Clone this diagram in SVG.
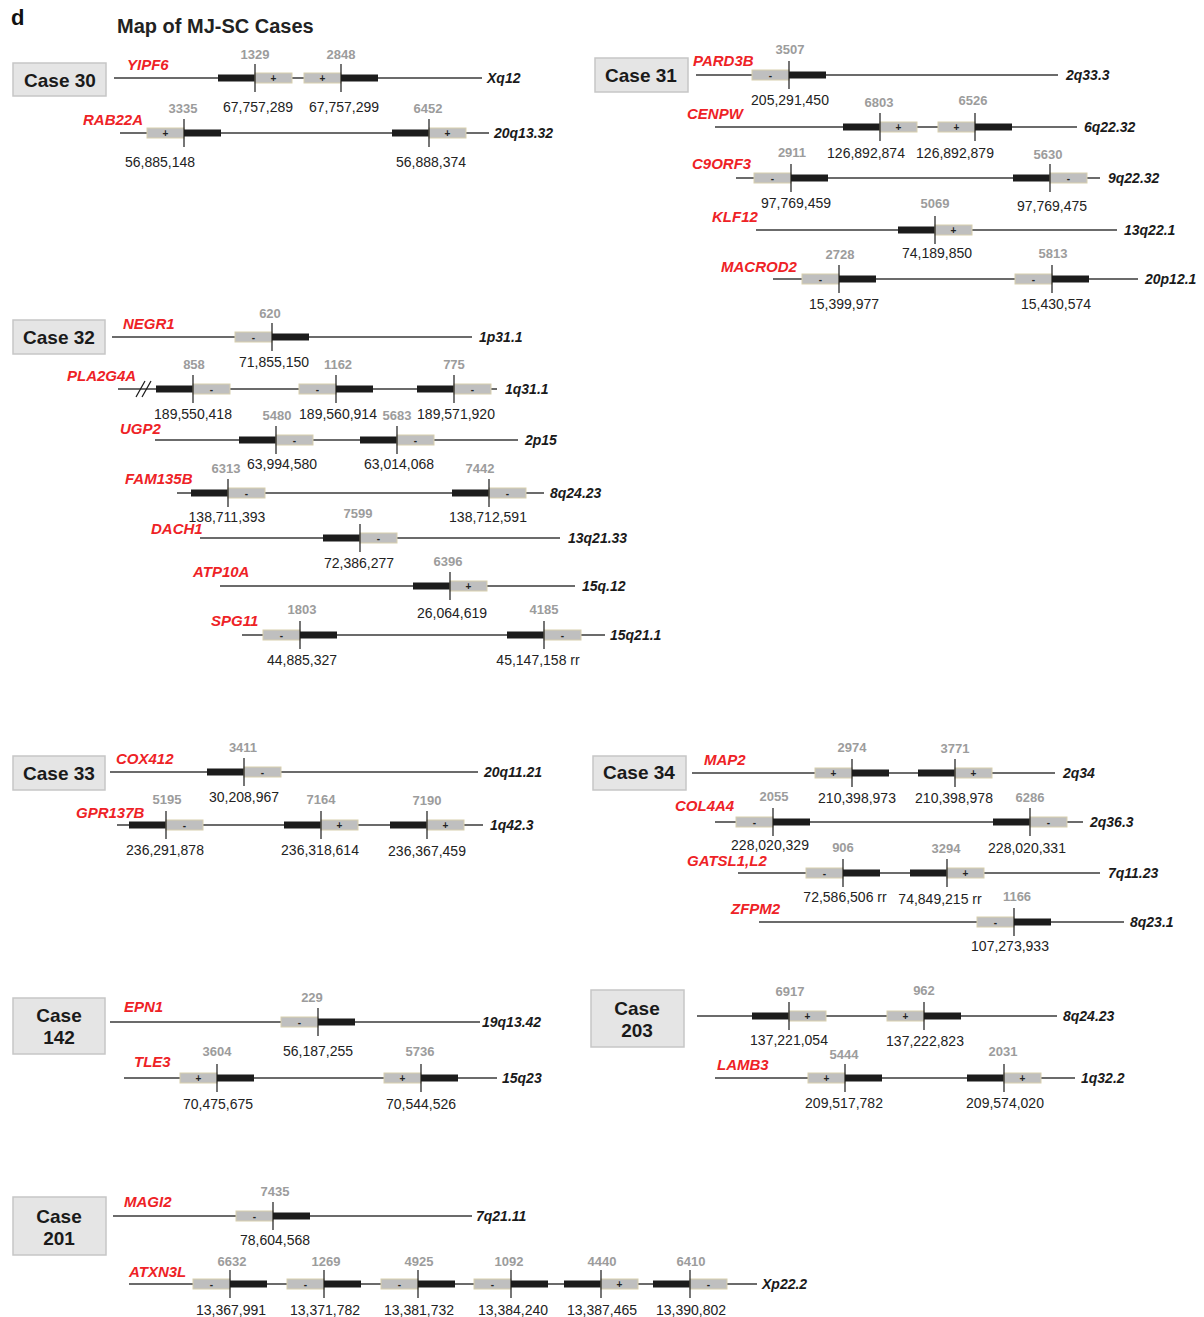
<svg xmlns="http://www.w3.org/2000/svg" width="1204" height="1317" viewBox="0 0 1204 1317">
<style>
.bb{stroke:#3a3a3a;stroke-width:1.3}
.g{fill:#bfbfbf;stroke:#d8cfae;stroke-width:1}
.k{fill:#1c1c1c}
.t{stroke:#1a1a1a;stroke-width:1.2}
.gene{font-family:"Liberation Sans",Arial,sans-serif;font-style:italic;font-weight:bold;font-size:15px;fill:#ee2226}
.chr{font-family:"Liberation Sans",Arial,sans-serif;font-style:italic;font-weight:bold;font-size:14px;fill:#1a1a1a}
.num{font-family:"Liberation Sans",Arial,sans-serif;font-weight:bold;font-size:13px;fill:#9c9c9c;text-anchor:middle}
.pos{font-family:"Liberation Sans",Arial,sans-serif;font-size:14px;fill:#222;text-anchor:middle}
.sg{font-family:"Liberation Sans",Arial,sans-serif;font-weight:bold;font-size:10px;fill:#222;text-anchor:middle}
.cb{fill:#e5e5e5;stroke:#c6c6c6;stroke-width:1.5}
.ct{font-family:"Liberation Sans",Arial,sans-serif;font-weight:bold;font-size:19px;fill:#1a1a1a;text-anchor:middle}
</style>
<text x="11" y="25" font-family="Liberation Sans, Arial, sans-serif" font-weight="bold" font-size="22" fill="#111">d</text>
<text x="117" y="33" font-family="Liberation Sans, Arial, sans-serif" font-weight="bold" font-size="20" fill="#222">Map of MJ-SC Cases</text>

<!-- Case 30 -->
<g id="case30">
<rect class="cb" x="13" y="63" width="93" height="33"/><text class="ct" x="60" y="87">Case 30</text>
<g id="YIPF6">
<line class="bb" x1="114" y1="78" x2="482" y2="78"/>
<rect class="k" x="218" y="74.5" width="37" height="7"/><rect class="g" x="255" y="73" width="37" height="10"/>
<rect class="g" x="304" y="73" width="37" height="10"/><rect class="k" x="341" y="74.5" width="37" height="7"/>
<line class="t" x1="255" y1="64" x2="255" y2="92"/><line class="t" x1="341" y1="64" x2="341" y2="92"/>
<text class="sg" x="273.5" y="81.5">+</text><text class="sg" x="322.5" y="81.5">+</text>
<text class="gene" x="127" y="70">YIPF6</text><text class="chr" x="487" y="83">Xq12</text>
<text class="num" x="255" y="59">1329</text><text class="pos" x="258" y="112">67,757,289</text>
<text class="num" x="341" y="59">2848</text><text class="pos" x="344" y="112">67,757,299</text>
</g>
<g id="RAB22A">
<line class="bb" x1="120" y1="133" x2="489" y2="133"/>
<rect class="g" x="147" y="128" width="37" height="10"/><rect class="k" x="184" y="129.5" width="37" height="7"/>
<rect class="k" x="392" y="129.5" width="37" height="7"/><rect class="g" x="429" y="128" width="37" height="10"/>
<line class="t" x1="184" y1="119" x2="184" y2="147"/><line class="t" x1="429" y1="119" x2="429" y2="147"/>
<text class="sg" x="165.5" y="136.5">+</text><text class="sg" x="447.5" y="136.5">+</text>
<text class="gene" x="83" y="125">RAB22A</text><text class="chr" x="494" y="138">20q13.32</text>
<text class="num" x="183" y="113">3335</text><text class="pos" x="160" y="167">56,885,148</text>
<text class="num" x="428" y="113">6452</text><text class="pos" x="431" y="167">56,888,374</text>
</g>
</g>

<!-- Case 31 -->
<g id="case31">
<rect class="cb" x="595" y="58" width="93" height="34"/><text class="ct" x="641" y="82">Case 31</text>
<g id="PARD3B">
<line class="bb" x1="696" y1="75" x2="1058" y2="75"/>
<rect class="g" x="752" y="70" width="37" height="10"/><rect class="k" x="789" y="71.5" width="37" height="7"/>
<line class="t" x1="789" y1="61" x2="789" y2="89"/>
<text class="sg" x="770.5" y="78.5">-</text>
<text class="gene" x="693" y="66">PARD3B</text><text class="chr" x="1066" y="80">2q33.3</text>
<text class="num" x="790" y="54">3507</text><text class="pos" x="790" y="105">205,291,450</text>
</g>
<g id="CENPW">
<line class="bb" x1="715" y1="127" x2="1077" y2="127"/>
<rect class="k" x="843" y="123.5" width="37" height="7"/><rect class="g" x="880" y="122" width="37" height="10"/>
<rect class="g" x="938" y="122" width="37" height="10"/><rect class="k" x="975" y="123.5" width="37" height="7"/>
<line class="t" x1="880" y1="113" x2="880" y2="141"/><line class="t" x1="975" y1="113" x2="975" y2="141"/>
<text class="sg" x="898.5" y="130.5">+</text><text class="sg" x="956.5" y="130.5">+</text>
<text class="gene" x="687" y="119">CENPW</text><text class="chr" x="1084" y="132">6q22.32</text>
<text class="num" x="879" y="107">6803</text><text class="pos" x="866" y="158">126,892,874</text>
<text class="num" x="973" y="105">6526</text><text class="pos" x="955" y="158">126,892,879</text>
</g>
<g id="C9ORF3">
<line class="bb" x1="736" y1="178" x2="1100" y2="178"/>
<rect class="g" x="754" y="173" width="37" height="10"/><rect class="k" x="791" y="174.5" width="37" height="7"/>
<rect class="k" x="1013" y="174.5" width="37" height="7"/><rect class="g" x="1050" y="173" width="37" height="10"/>
<line class="t" x1="791" y1="164" x2="791" y2="192"/><line class="t" x1="1050" y1="164" x2="1050" y2="192"/>
<text class="sg" x="772.5" y="181.5">-</text><text class="sg" x="1068.5" y="181.5">-</text>
<text class="gene" x="692" y="169">C9ORF3</text><text class="chr" x="1108" y="183">9q22.32</text>
<text class="num" x="792" y="157">2911</text><text class="pos" x="796" y="208">97,769,459</text>
<text class="num" x="1048" y="159">5630</text><text class="pos" x="1052" y="211">97,769,475</text>
</g>
<g id="KLF12">
<line class="bb" x1="756" y1="230" x2="1117" y2="230"/>
<rect class="k" x="898" y="226.5" width="37" height="7"/><rect class="g" x="935" y="225" width="37" height="10"/>
<line class="t" x1="935" y1="216" x2="935" y2="244"/>
<text class="sg" x="953.5" y="233.5">+</text>
<text class="gene" x="712" y="222">KLF12</text><text class="chr" x="1124" y="235">13q22.1</text>
<text class="num" x="935" y="208">5069</text><text class="pos" x="937" y="258">74,189,850</text>
</g>
<g id="MACROD2">
<line class="bb" x1="773" y1="279" x2="1138" y2="279"/>
<rect class="g" x="802" y="274" width="37" height="10"/><rect class="k" x="839" y="275.5" width="37" height="7"/>
<rect class="g" x="1015" y="274" width="37" height="10"/><rect class="k" x="1052" y="275.5" width="37" height="7"/>
<line class="t" x1="839" y1="265" x2="839" y2="293"/><line class="t" x1="1052" y1="265" x2="1052" y2="293"/>
<text class="sg" x="820.5" y="282.5">-</text><text class="sg" x="1033.5" y="282.5">-</text>
<text class="gene" x="721" y="272">MACROD2</text><text class="chr" x="1145" y="284">20p12.1</text>
<text class="num" x="840" y="259">2728</text><text class="pos" x="844" y="309">15,399,977</text>
<text class="num" x="1053" y="258">5813</text><text class="pos" x="1056" y="309">15,430,574</text>
</g>
</g>

<!-- Case 32 -->
<g id="case32">
<rect class="cb" x="13" y="320" width="92" height="34"/><text class="ct" x="59" y="344">Case 32</text>
<g id="NEGR1">
<line class="bb" x1="112" y1="337" x2="472" y2="337"/>
<rect class="g" x="235" y="332" width="37" height="10"/><rect class="k" x="272" y="333.5" width="37" height="7"/>
<line class="t" x1="272" y1="323" x2="272" y2="351"/>
<text class="sg" x="253.5" y="340.5">-</text>
<text class="gene" x="123" y="329">NEGR1</text><text class="chr" x="479" y="342">1p31.1</text>
<text class="num" x="270" y="318">620</text><text class="pos" x="274" y="367">71,855,150</text>
</g>
<g id="PLA2G4A">
<line class="bb" x1="118" y1="389" x2="497" y2="389"/>
<line class="t" x1="136" y1="397" x2="145" y2="381"/><line class="t" x1="142" y1="397" x2="151" y2="381"/>
<rect class="k" x="156" y="385.5" width="37" height="7"/><rect class="g" x="193" y="384" width="37" height="10"/>
<rect class="g" x="299" y="384" width="37" height="10"/><rect class="k" x="336" y="385.5" width="37" height="7"/>
<rect class="k" x="417" y="385.5" width="37" height="7"/><rect class="g" x="454" y="384" width="37" height="10"/>
<line class="t" x1="193" y1="375" x2="193" y2="403"/><line class="t" x1="336" y1="375" x2="336" y2="403"/><line class="t" x1="454" y1="375" x2="454" y2="403"/>
<text class="sg" x="211.5" y="392.5">-</text><text class="sg" x="317.5" y="392.5">-</text><text class="sg" x="472.5" y="392.5">-</text>
<text class="gene" x="67" y="381">PLA2G4A</text><text class="chr" x="505" y="394">1q31.1</text>
<text class="num" x="194" y="369">858</text><text class="pos" x="193" y="419">189,550,418</text>
<text class="num" x="338" y="369">1162</text><text class="pos" x="338" y="419">189,560,914</text>
<text class="num" x="454" y="369">775</text><text class="pos" x="456" y="419">189,571,920</text>
</g>
<g id="UGP2">
<line class="bb" x1="155" y1="440" x2="518" y2="440"/>
<rect class="k" x="239" y="436.5" width="37" height="7"/><rect class="g" x="276" y="435" width="37" height="10"/>
<rect class="k" x="360" y="436.5" width="37" height="7"/><rect class="g" x="397" y="435" width="37" height="10"/>
<line class="t" x1="276" y1="426" x2="276" y2="454"/><line class="t" x1="397" y1="426" x2="397" y2="454"/>
<text class="sg" x="294.5" y="443.5">-</text><text class="sg" x="415.5" y="443.5">-</text>
<text class="gene" x="120" y="434">UGP2</text><text class="chr" x="525" y="445">2p15</text>
<text class="num" x="277" y="420">5480</text><text class="pos" x="282" y="469">63,994,580</text>
<text class="num" x="397" y="420">5683</text><text class="pos" x="399" y="469">63,014,068</text>
</g>
<g id="FAM135B">
<line class="bb" x1="177" y1="493" x2="544" y2="493"/>
<rect class="k" x="191" y="489.5" width="37" height="7"/><rect class="g" x="228" y="488" width="37" height="10"/>
<rect class="k" x="452" y="489.5" width="37" height="7"/><rect class="g" x="489" y="488" width="37" height="10"/>
<line class="t" x1="228" y1="479" x2="228" y2="507"/><line class="t" x1="489" y1="479" x2="489" y2="507"/>
<text class="sg" x="246.5" y="496.5">-</text><text class="sg" x="507.5" y="496.5">-</text>
<text class="gene" x="125" y="484">FAM135B</text><text class="chr" x="550" y="498">8q24.23</text>
<text class="num" x="226" y="473">6313</text><text class="pos" x="227" y="522">138,711,393</text>
<text class="num" x="480" y="473">7442</text><text class="pos" x="488" y="522">138,712,591</text>
</g>
<g id="DACH1">
<line class="bb" x1="200" y1="538" x2="560" y2="538"/>
<rect class="k" x="323" y="534.5" width="37" height="7"/><rect class="g" x="360" y="533" width="37" height="10"/>
<line class="t" x1="360" y1="524" x2="360" y2="552"/>
<text class="sg" x="378.5" y="541.5">-</text>
<text class="gene" x="151" y="534">DACH1</text><text class="chr" x="568" y="543">13q21.33</text>
<text class="num" x="358" y="518">7599</text><text class="pos" x="359" y="568">72,386,277</text>
</g>
<g id="ATP10A">
<line class="bb" x1="220" y1="586" x2="575" y2="586"/>
<rect class="k" x="413" y="582.5" width="37" height="7"/><rect class="g" x="450" y="581" width="37" height="10"/>
<line class="t" x1="450" y1="572" x2="450" y2="600"/>
<text class="sg" x="468.5" y="589.5">+</text>
<text class="gene" x="193" y="577">ATP10A</text><text class="chr" x="582" y="591">15q.12</text>
<text class="num" x="448" y="566">6396</text><text class="pos" x="452" y="618">26,064,619</text>
</g>
<g id="SPG11">
<line class="bb" x1="242" y1="635" x2="605" y2="635"/>
<rect class="g" x="263" y="630" width="37" height="10"/><rect class="k" x="300" y="631.5" width="37" height="7"/>
<rect class="k" x="507" y="631.5" width="37" height="7"/><rect class="g" x="544" y="630" width="37" height="10"/>
<line class="t" x1="300" y1="621" x2="300" y2="649"/><line class="t" x1="544" y1="621" x2="544" y2="649"/>
<text class="sg" x="281.5" y="638.5">-</text><text class="sg" x="562.5" y="638.5">-</text>
<text class="gene" x="211" y="626">SPG11</text><text class="chr" x="610" y="640">15q21.1</text>
<text class="num" x="302" y="614">1803</text><text class="pos" x="302" y="665">44,885,327</text>
<text class="num" x="544" y="614">4185</text><text class="pos" x="538" y="665">45,147,158 rr</text>
</g>
</g>

<!-- Case 33 -->
<g id="case33">
<rect class="cb" x="13" y="756" width="92" height="34"/><text class="ct" x="59" y="780">Case 33</text>
<g id="COX412">
<line class="bb" x1="110" y1="772" x2="478" y2="772"/>
<rect class="k" x="207" y="768.5" width="37" height="7"/><rect class="g" x="244" y="767" width="37" height="10"/>
<line class="t" x1="244" y1="758" x2="244" y2="786"/>
<text class="sg" x="262.5" y="775.5">-</text>
<text class="gene" x="116" y="764">COX412</text><text class="chr" x="484" y="777">20q11.21</text>
<text class="num" x="243" y="752">3411</text><text class="pos" x="244" y="802">30,208,967</text>
</g>
<g id="GPR137B">
<line class="bb" x1="117" y1="825" x2="483" y2="825"/>
<rect class="k" x="129" y="821.5" width="37" height="7"/><rect class="g" x="166" y="820" width="37" height="10"/>
<rect class="k" x="284" y="821.5" width="37" height="7"/><rect class="g" x="321" y="820" width="37" height="10"/>
<rect class="k" x="390" y="821.5" width="37" height="7"/><rect class="g" x="427" y="820" width="37" height="10"/>
<line class="t" x1="166" y1="811" x2="166" y2="839"/><line class="t" x1="321" y1="811" x2="321" y2="839"/><line class="t" x1="427" y1="811" x2="427" y2="839"/>
<text class="sg" x="184.5" y="828.5">-</text><text class="sg" x="339.5" y="828.5">+</text><text class="sg" x="445.5" y="828.5">+</text>
<text class="gene" x="76" y="818">GPR137B</text><text class="chr" x="490" y="830">1q42.3</text>
<text class="num" x="167" y="804">5195</text><text class="pos" x="165" y="855">236,291,878</text>
<text class="num" x="321" y="804">7164</text><text class="pos" x="320" y="855">236,318,614</text>
<text class="num" x="427" y="805">7190</text><text class="pos" x="427" y="856">236,367,459</text>
</g>
</g>

<!-- Case 34 -->
<g id="case34">
<rect class="cb" x="593" y="756" width="93" height="34"/><text class="ct" x="639" y="779">Case 34</text>
<g id="MAP2">
<line class="bb" x1="692" y1="773" x2="1055" y2="773"/>
<rect class="g" x="815" y="768" width="37" height="10"/><rect class="k" x="852" y="769.5" width="37" height="7"/>
<rect class="k" x="918" y="769.5" width="37" height="7"/><rect class="g" x="955" y="768" width="37" height="10"/>
<line class="t" x1="852" y1="759" x2="852" y2="787"/><line class="t" x1="955" y1="759" x2="955" y2="787"/>
<text class="sg" x="833.5" y="776.5">+</text><text class="sg" x="973.5" y="776.5">+</text>
<text class="gene" x="704" y="765">MAP2</text><text class="chr" x="1063" y="778">2q34</text>
<text class="num" x="852" y="752">2974</text><text class="pos" x="857" y="803">210,398,973</text>
<text class="num" x="955" y="753">3771</text><text class="pos" x="954" y="803">210,398,978</text>
</g>
<g id="COL4A4">
<line class="bb" x1="715" y1="822" x2="1083" y2="822"/>
<rect class="g" x="736" y="817" width="37" height="10"/><rect class="k" x="773" y="818.5" width="37" height="7"/>
<rect class="k" x="993" y="818.5" width="37" height="7"/><rect class="g" x="1030" y="817" width="37" height="10"/>
<line class="t" x1="773" y1="808" x2="773" y2="836"/><line class="t" x1="1030" y1="808" x2="1030" y2="836"/>
<text class="sg" x="754.5" y="825.5">-</text><text class="sg" x="1048.5" y="825.5">-</text>
<text class="gene" x="675" y="811">COL4A4</text><text class="chr" x="1090" y="827">2q36.3</text>
<text class="num" x="774" y="801">2055</text><text class="pos" x="770" y="850">228,020,329</text>
<text class="num" x="1030" y="802">6286</text><text class="pos" x="1027" y="853">228,020,331</text>
</g>
<g id="GATSL1L2">
<line class="bb" x1="738" y1="873" x2="1100" y2="873"/>
<rect class="g" x="806" y="868" width="37" height="10"/><rect class="k" x="843" y="869.5" width="37" height="7"/>
<rect class="k" x="910" y="869.5" width="37" height="7"/><rect class="g" x="947" y="868" width="37" height="10"/>
<line class="t" x1="843" y1="859" x2="843" y2="887"/><line class="t" x1="947" y1="859" x2="947" y2="887"/>
<text class="sg" x="824.5" y="876.5">-</text><text class="sg" x="965.5" y="876.5">+</text>
<text class="gene" x="687" y="866">GATSL1,L2</text><text class="chr" x="1108" y="878">7q11.23</text>
<text class="num" x="843" y="852">906</text><text class="pos" x="845" y="902">72,586,506 rr</text>
<text class="num" x="946" y="853">3294</text><text class="pos" x="940" y="904">74,849,215 rr</text>
</g>
<g id="ZFPM2">
<line class="bb" x1="759" y1="922" x2="1124" y2="922"/>
<rect class="g" x="977" y="917" width="37" height="10"/><rect class="k" x="1014" y="918.5" width="37" height="7"/>
<line class="t" x1="1014" y1="908" x2="1014" y2="936"/>
<text class="sg" x="995.5" y="925.5">-</text>
<text class="gene" x="731" y="914">ZFPM2</text><text class="chr" x="1130" y="927">8q23.1</text>
<text class="num" x="1017" y="901">1166</text><text class="pos" x="1010" y="951">107,273,933</text>
</g>
</g>

<!-- Case 142 -->
<g id="case142">
<rect class="cb" x="13" y="998" width="92" height="56"/><text class="ct" x="59" y="1022">Case</text><text class="ct" x="59" y="1044">142</text>
<g id="EPN1">
<line class="bb" x1="110" y1="1022" x2="480" y2="1022"/>
<rect class="g" x="281" y="1017" width="37" height="10"/><rect class="k" x="318" y="1018.5" width="37" height="7"/>
<line class="t" x1="318" y1="1008" x2="318" y2="1036"/>
<text class="sg" x="299.5" y="1025.5">-</text>
<text class="gene" x="124" y="1012">EPN1</text><text class="chr" x="482" y="1027">19q13.42</text>
<text class="num" x="312" y="1002">229</text><text class="pos" x="318" y="1056">56,187,255</text>
</g>
<g id="TLE3">
<line class="bb" x1="124" y1="1078" x2="497" y2="1078"/>
<rect class="g" x="180" y="1073" width="37" height="10"/><rect class="k" x="217" y="1074.5" width="37" height="7"/>
<rect class="g" x="384" y="1073" width="37" height="10"/><rect class="k" x="421" y="1074.5" width="37" height="7"/>
<line class="t" x1="217" y1="1064" x2="217" y2="1092"/><line class="t" x1="421" y1="1064" x2="421" y2="1092"/>
<text class="sg" x="198.5" y="1081.5">+</text><text class="sg" x="402.5" y="1081.5">+</text>
<text class="gene" x="134" y="1067">TLE3</text><text class="chr" x="502" y="1083">15q23</text>
<text class="num" x="217" y="1056">3604</text><text class="pos" x="218" y="1109">70,475,675</text>
<text class="num" x="420" y="1056">5736</text><text class="pos" x="421" y="1109">70,544,526</text>
</g>
</g>

<!-- Case 203 -->
<g id="case203">
<rect class="cb" x="591" y="990" width="93" height="57"/><text class="ct" x="637" y="1015">Case</text><text class="ct" x="637" y="1037">203</text>
<g id="row203a">
<line class="bb" x1="697" y1="1016" x2="1057" y2="1016"/>
<rect class="k" x="752" y="1012.5" width="37" height="7"/><rect class="g" x="789" y="1011" width="37" height="10"/>
<rect class="g" x="887" y="1011" width="37" height="10"/><rect class="k" x="924" y="1012.5" width="37" height="7"/>
<line class="t" x1="789" y1="1002" x2="789" y2="1030"/><line class="t" x1="924" y1="1002" x2="924" y2="1030"/>
<text class="sg" x="807.5" y="1019.5">+</text><text class="sg" x="905.5" y="1019.5">+</text>
<text class="chr" x="1063" y="1021">8q24.23</text>
<text class="num" x="790" y="996">6917</text><text class="pos" x="789" y="1045">137,221,054</text>
<text class="num" x="924" y="995">962</text><text class="pos" x="925" y="1046">137,222,823</text>
</g>
<g id="LAMB3">
<line class="bb" x1="715" y1="1078" x2="1075" y2="1078"/>
<rect class="g" x="808" y="1073" width="37" height="10"/><rect class="k" x="845" y="1074.5" width="37" height="7"/>
<rect class="k" x="967" y="1074.5" width="37" height="7"/><rect class="g" x="1004" y="1073" width="37" height="10"/>
<line class="t" x1="845" y1="1064" x2="845" y2="1092"/><line class="t" x1="1004" y1="1064" x2="1004" y2="1092"/>
<text class="sg" x="826.5" y="1081.5">+</text><text class="sg" x="1022.5" y="1081.5">+</text>
<text class="gene" x="717" y="1070">LAMB3</text><text class="chr" x="1081" y="1083">1q32.2</text>
<text class="num" x="844" y="1059">5444</text><text class="pos" x="844" y="1108">209,517,782</text>
<text class="num" x="1003" y="1056">2031</text><text class="pos" x="1005" y="1108">209,574,020</text>
</g>
</g>

<!-- Case 201 -->
<g id="case201">
<rect class="cb" x="13" y="1197" width="93" height="58"/><text class="ct" x="59" y="1223">Case</text><text class="ct" x="59" y="1245">201</text>
<g id="MAGI2">
<line class="bb" x1="113" y1="1216" x2="472" y2="1216"/>
<rect class="g" x="236" y="1211" width="37" height="10"/><rect class="k" x="273" y="1212.5" width="37" height="7"/>
<line class="t" x1="273" y1="1202" x2="273" y2="1230"/>
<text class="sg" x="254.5" y="1219.5">-</text>
<text class="gene" x="124" y="1207">MAGI2</text><text class="chr" x="476" y="1221">7q21.11</text>
<text class="num" x="275" y="1196">7435</text><text class="pos" x="275" y="1245">78,604,568</text>
</g>
<g id="ATXN3L">
<line class="bb" x1="129" y1="1284" x2="757" y2="1284"/>
<rect class="g" x="193" y="1279" width="37" height="10"/><rect class="k" x="230" y="1280.5" width="37" height="7"/>
<rect class="g" x="287" y="1279" width="37" height="10"/><rect class="k" x="324" y="1280.5" width="37" height="7"/>
<rect class="g" x="381" y="1279" width="37" height="10"/><rect class="k" x="418" y="1280.5" width="37" height="7"/>
<rect class="g" x="474" y="1279" width="37" height="10"/><rect class="k" x="511" y="1280.5" width="37" height="7"/>
<rect class="k" x="564" y="1280.5" width="37" height="7"/><rect class="g" x="601" y="1279" width="37" height="10"/>
<rect class="k" x="653" y="1280.5" width="37" height="7"/><rect class="g" x="690" y="1279" width="37" height="10"/>
<line class="t" x1="230" y1="1270" x2="230" y2="1298"/><line class="t" x1="324" y1="1270" x2="324" y2="1298"/><line class="t" x1="418" y1="1270" x2="418" y2="1298"/>
<line class="t" x1="511" y1="1270" x2="511" y2="1298"/><line class="t" x1="601" y1="1270" x2="601" y2="1298"/><line class="t" x1="690" y1="1270" x2="690" y2="1298"/>
<text class="sg" x="211.5" y="1287.5">-</text><text class="sg" x="305.5" y="1287.5">-</text><text class="sg" x="399.5" y="1287.5">-</text>
<text class="sg" x="492.5" y="1287.5">-</text><text class="sg" x="619.5" y="1287.5">+</text><text class="sg" x="708.5" y="1287.5">-</text>
<text class="gene" x="129" y="1277">ATXN3L</text><text class="chr" x="762" y="1289">Xp22.2</text>
<text class="num" x="232" y="1266">6632</text><text class="pos" x="231" y="1315">13,367,991</text>
<text class="num" x="326" y="1266">1269</text><text class="pos" x="325" y="1315">13,371,782</text>
<text class="num" x="419" y="1266">4925</text><text class="pos" x="419" y="1315">13,381,732</text>
<text class="num" x="509" y="1266">1092</text><text class="pos" x="513" y="1315">13,384,240</text>
<text class="num" x="602" y="1266">4440</text><text class="pos" x="602" y="1315">13,387,465</text>
<text class="num" x="691" y="1266">6410</text><text class="pos" x="691" y="1315">13,390,802</text>
</g>
</g>
</svg>
